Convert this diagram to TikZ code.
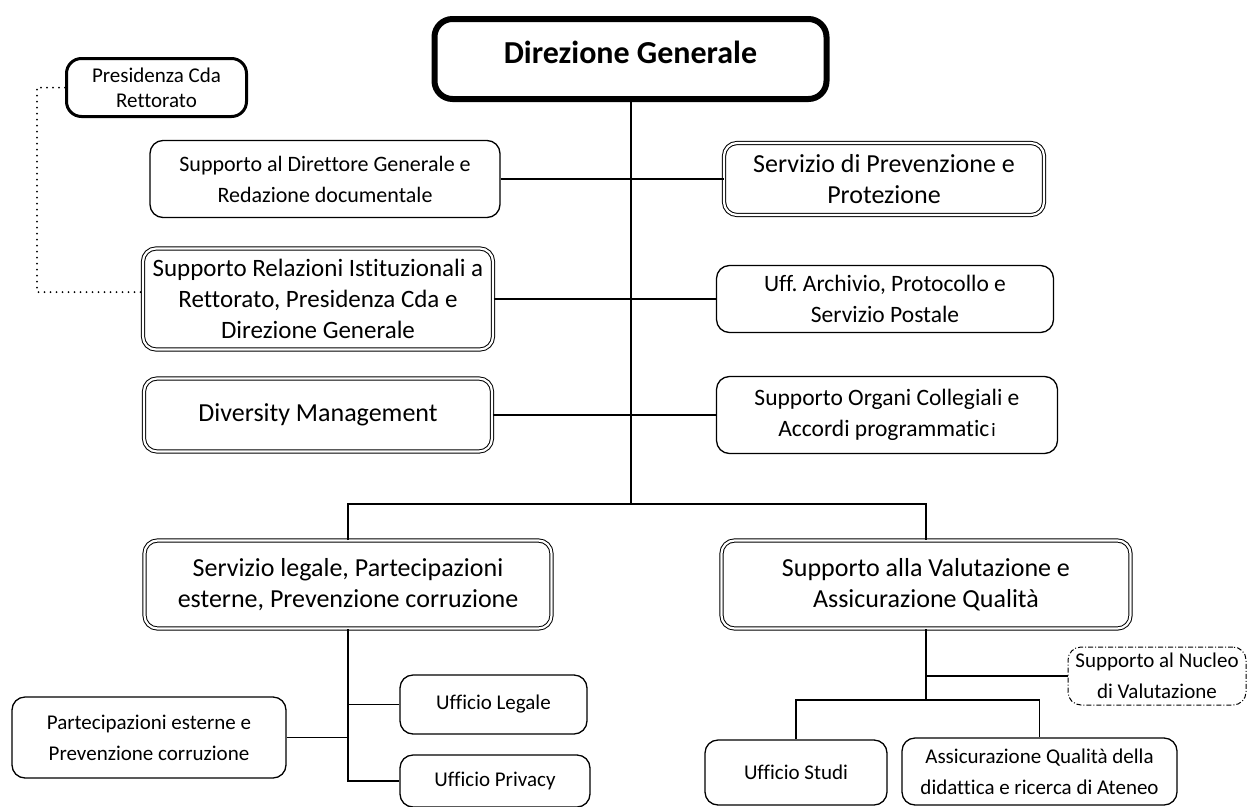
\documentclass[tikz,border=0pt]{standalone}
\usepackage{fontspec}
\setmainfont{Carlito}[Ligatures=CommonOff]
\usetikzlibrary{positioning}

\tikzset{
  unit/.style={draw, rounded corners=13pt, align=center, inner sep=0pt, line width=1.3pt,
    font=\fontsize{21}{31}\selectfont},
  bigunit/.style={unit, font=\fontsize{23.5}{31}\selectfont},
  dblunit/.style={unit, double, double distance=2.2pt, line width=1pt,
    font=\fontsize{26}{31}\selectfont},
  topunit/.style={unit, line width=6pt, rounded corners=18pt,
    font=\fontsize{32}{38}\selectfont\bfseries},
  boldunit/.style={unit, line width=3pt, rounded corners=15pt, font=\fontsize{21}{25}\selectfont},
  dashunit/.style={unit, dash pattern=on 5pt off 2pt on 1pt off 2pt, line width=1pt},
  link/.style={line width=1.3pt},
}

\begin{document}
\begin{tikzpicture}[x=1pt,y=-1pt]
\useasboundingbox (0,0) rectangle (1249,806);

% vertice
\node[topunit, minimum width=392pt, minimum height=80pt, text depth=14pt] (dg) at (630.5,59) {Direzione Generale};
\node[boldunit, minimum width=180pt, minimum height=58pt] (pres) at (156.5,87.5) {Presidenza Cda\\Rettorato};

% staff a sinistra
\node[unit, font=\fontsize{22}{31}\selectfont, minimum width=350pt, minimum height=77pt] (supdir) at (325,179) {Supporto al Direttore Generale e\\Redazione documentale};
\node[dblunit, font=\fontsize{25}{31}\selectfont, minimum width=350pt, minimum height=101pt] (srel) at (318,299) {Supporto Relazioni Istituzionali a\\Rettorato, Presidenza Cda e\\Direzione Generale};
\node[dblunit, minimum width=348pt, minimum height=73pt] (div) at (318,415) {Diversity Management};

% staff a destra
\node[dblunit, minimum width=320pt, minimum height=72pt] (spp) at (884,179) {Servizio di Prevenzione e\\Protezione};
\node[bigunit, minimum width=337pt, minimum height=67pt] (uff) at (885,299) {Uff.\ Archivio, Protocollo e\\Servizio Postale};
\node[bigunit, minimum width=341pt, minimum height=77pt] (sorg) at (887,415) {Supporto Organi Collegiali e\\Accordi programmatic\kern2pt{\fontsize{19}{31}\selectfont i}};

% servizi
\node[dblunit, minimum width=407pt, minimum height=88pt] (sleg) at (348,584.5) {Servizio legale, Partecipazioni\\esterne, Prevenzione corruzione};
\node[dblunit, minimum width=409pt, minimum height=88pt] (sval) at (926,584.5) {Supporto alla Valutazione e\\Assicurazione Qualità};

% uffici
\node[unit, minimum width=187pt, minimum height=59pt] (ulegale) at (493.5,704.5) {Ufficio Legale};
\node[unit, minimum width=190pt, minimum height=52pt] (upriv) at (495,781) {Ufficio Privacy};
\node[unit, minimum width=274pt, minimum height=81pt] (part) at (149,737.5) {Partecipazioni esterne e\\Prevenzione corruzione};
\node[dashunit, minimum width=178pt, minimum height=58pt] (nucleo) at (1157,676) {Supporto al Nucleo\\di Valutazione};
\node[unit, minimum width=182pt, minimum height=65pt] (studi) at (796,772.5) {Ufficio Studi};
\node[unit, minimum width=275pt, minimum height=67pt] (assic) at (1039.5,771.5) {Assicurazione Qualità della\\didattica e ricerca di Ateneo};

% collegamenti
\coordinate (trunk) at (631,504);
\coordinate (qbar) at (926,700);
\draw[link] (dg.south -| trunk) -- (trunk);
\draw[link] (supdir.east) -- (spp.west);
\draw[link] (srel.east) -- (uff.west);
\draw[link] (div.east) -- (sorg.west);
\draw[link] (sleg.north) |- (trunk) -| (sval.north);
\draw[link] (sleg.south) -- (sleg.south |- upriv.west) -- (upriv.west);
\draw[link] (ulegale.west) -- (ulegale.west -| sleg.south);
\draw[link] (part.east) -- (part.east -| sleg.south);
\draw[link] (sval.south) -- (qbar);
\draw[link] (studi.north) |- (qbar) -| (assic.north);
\draw[link] (nucleo.west) -- (nucleo.west -| qbar);
\draw[link, line cap=round, dash pattern=on 0pt off 6pt, line width=2pt] (pres.west) -- ++(-28,0) |- ([yshift=7pt]srel.west);
\end{tikzpicture}
\end{document}
